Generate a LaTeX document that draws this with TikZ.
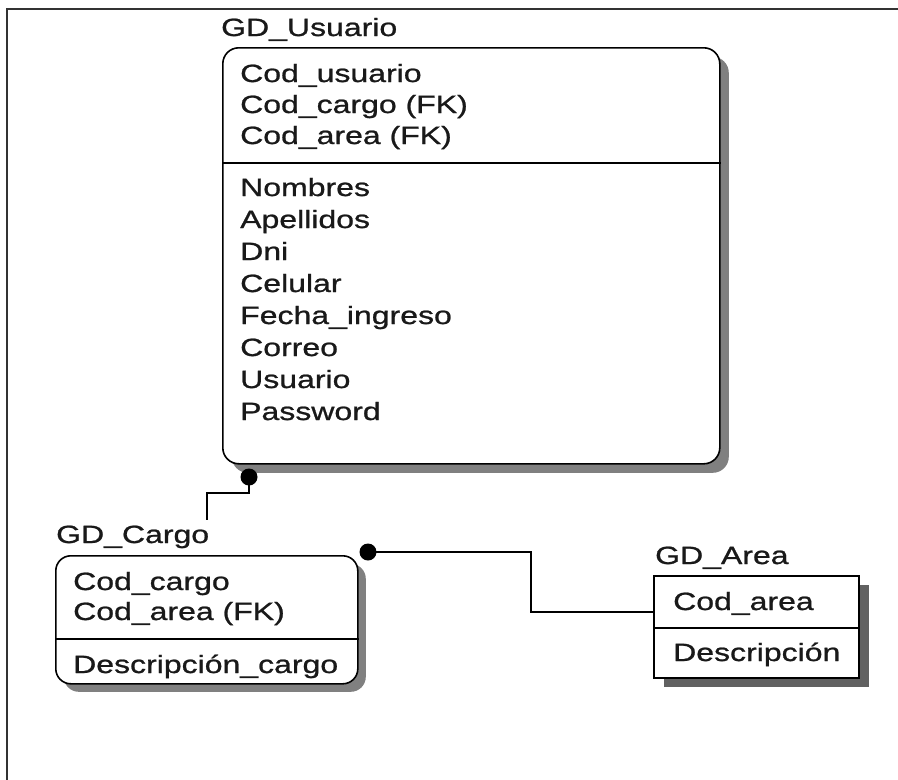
\documentclass[tikz,border=0pt]{standalone}
\usepackage{fontspec}
\setmainfont[FakeStretch=1.28, FakeBold=0.9]{Liberation Sans}
\usetikzlibrary{shadows}
\begin{document}
\begin{tikzpicture}[x=1pt, y=-1pt,
  txt/.style={font=\fontsize{25}{30}\selectfont, anchor=base west, inner sep=0pt, text=black!90},
  entity/.style={draw=black, line width=1.6pt, fill=white, anchor=north west, inner sep=0pt},
  roundshadow/.style={general shadow={fill=black!50, shadow xshift=9pt, shadow yshift=-9pt}},
  stripeshadow/.style={general shadow={fill=black!62, shadow xshift=10pt, shadow yshift=-9pt}},
  rel/.style={line width=1.5pt, draw=black},
  dotmark/.style={circle, fill=black, inner sep=0pt, minimum size=17pt},
  frame/.style={line width=1.6pt, draw=black!80}
]
\useasboundingbox (0,0) rectangle (898,780);

% outer frame
\draw[frame] (898,9) -- (7,9) -- (7,780);

% ---------- GD_Usuario ----------
\node[txt] (lblusuario) at (221,36) {GD\_Usuario};
\node[entity, roundshadow, rounded corners=16pt,
      minimum width=497pt, minimum height=416pt] (usuario) at (222,47) {};
\draw[line width=1.6pt] (usuario.west |- 0,163) -- (usuario.east |- 0,163);
\node[txt] (u1) at (240,82)  {Cod\_usuario};
\node[txt] (u2) at (240,113) {Cod\_cargo (FK)};
\node[txt] (u3) at (240,144) {Cod\_area (FK)};
\node[txt] (u4) at (240,196) {Nombres};
\node[txt] (u5) at (240,228) {Apellidos};
\node[txt] (u6) at (240,260) {Dni};
\node[txt] (u7) at (240,292) {Celular};
\node[txt] (u8) at (240,324) {Fecha\_ingreso};
\node[txt] (u9) at (240,356) {Correo};
\node[txt] (u10) at (240,388) {Usuario};
\node[txt] (u11) at (240,420) {Password};

% ---------- GD_Cargo ----------
\node[txt] (lblcargo) at (56,543) {GD\_Cargo};
\node[entity, general shadow={fill=black!50, shadow xshift=8pt, shadow yshift=-8pt},
      rounded corners=15pt, minimum width=302pt, minimum height=128pt] (cargo) at (55,555) {};
\draw[line width=1.6pt] (cargo.west |- 0,639) -- (cargo.east |- 0,639);
\node[txt] (c1) at (73,590) {Cod\_cargo};
\node[txt] (c2) at (73,620) {Cod\_area (FK)};
\node[txt] (c3) at (73,673) {Descripción\_cargo};

% ---------- GD_Area ----------
\node[txt] (lblarea) at (655,564) {GD\_Area};
\node[entity, stripeshadow, minimum width=205pt, minimum height=102pt] (area) at (653,575) {};
\draw[line width=1.6pt] (area.west |- 0,628) -- (area.east |- 0,628);
\node[txt] (a1) at (673,610) {Cod\_area};
\node[txt] (a2) at (673,661) {Descripción};

% ---------- relationships ----------
\node[dotmark] (dot1) at (249,477) {};
\coordinate (cargotop) at (207,520);
\draw[rel] (dot1.center) -- ++(0,16) -| (cargotop);

\node[dotmark] (dot2) at (368,552) {};
\coordinate (areaentry) at (area.west |- 0,612);
\draw[rel] (dot2.center) -| (531,612) -- (areaentry);
\end{tikzpicture}
\end{document}
